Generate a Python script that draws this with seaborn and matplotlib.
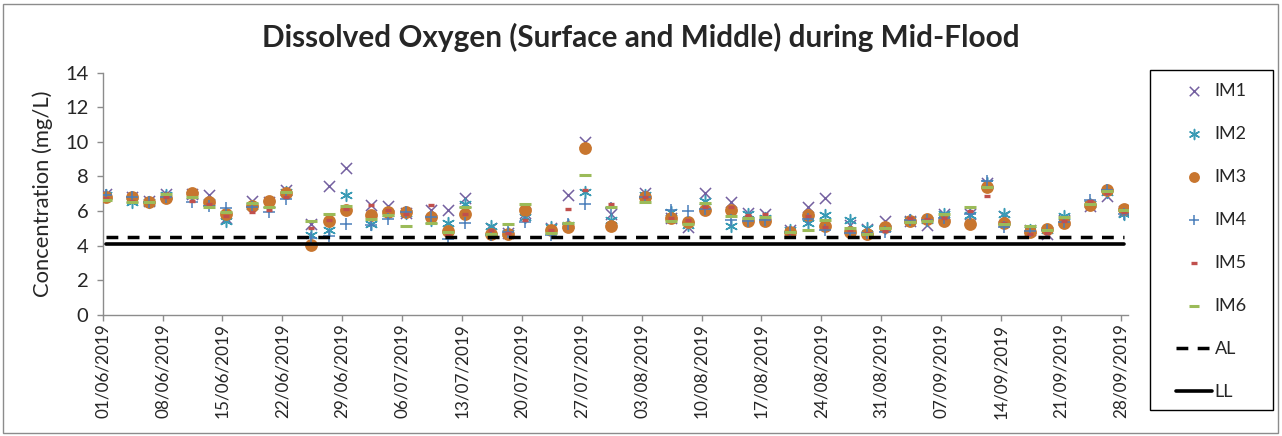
import matplotlib
matplotlib.use("Agg")
import matplotlib.pyplot as plt
import matplotlib.dates as mdates
from matplotlib.patches import Rectangle
import pandas as pd
import seaborn as sns

# sampling dates (taken mid-morning)
sample_dates = [
    "01/06/2019", "04/06/2019", "06/06/2019", "08/06/2019", "11/06/2019", "13/06/2019", "15/06/2019",
    "18/06/2019", "20/06/2019", "22/06/2019", "25/06/2019", "27/06/2019", "29/06/2019",
    "02/07/2019", "04/07/2019", "06/07/2019", "09/07/2019", "11/07/2019", "13/07/2019", "16/07/2019",
    "18/07/2019", "20/07/2019", "23/07/2019", "25/07/2019", "27/07/2019", "30/07/2019",
    "03/08/2019", "06/08/2019", "08/08/2019", "10/08/2019", "13/08/2019", "15/08/2019", "17/08/2019",
    "20/08/2019", "22/08/2019", "24/08/2019", "27/08/2019", "29/08/2019", "31/08/2019",
    "03/09/2019", "05/09/2019", "07/09/2019", "10/09/2019", "12/09/2019", "14/09/2019",
    "17/09/2019", "19/09/2019", "21/09/2019", "24/09/2019", "26/09/2019", "28/09/2019",
]
sample_time = "09:30"

# dissolved oxygen (mg/L) per station, one value per sampling date
im1 = [7.0, 6.8, 6.6, 7.0, 7.0, 6.9, 5.6, 6.6, 6.5, 7.2, 5.26, 7.47, 8.49,
       6.32, 6.28, 5.9, 6.03, 6.03, 6.74, 5.0, 4.7, 5.9, 5.0, 6.9, 10.0, 5.84,
       7.03, 5.6, 5.07, 7.03, 6.51, 5.88, 5.84, 4.9, 6.22, 6.74, 5.2, 4.95, 5.42,
       5.4, 5.2, 5.84, 5.8, 7.6, 5.7, 4.9, 4.69, 5.5, 6.3, 6.89, 6.0]
im2 = [6.9, 6.5, 6.5, 6.95, 6.9, 6.5, 5.4, 6.3, 6.4, 7.1, 4.59, 4.88, 6.91,
       5.26, 5.9, 5.9, 5.5, 5.3, 6.42, 5.11, 4.7, 5.65, 5.07, 5.2, 7.09, 5.49,
       6.9, 5.95, 5.2, 6.6, 5.11, 5.8, 5.6, 4.9, 5.3, 5.78, 5.46, 5.01, 5.0,
       5.5, 5.5, 5.84, 5.78, 7.6, 5.84, 4.9, 4.9, 5.7, 6.4, 7.1, 5.8]
im3 = [6.8, 6.8, 6.5, 6.75, 7.03, 6.5, 5.84, 6.3, 6.6, 7.03, 4.05, 5.42, 6.03,
       5.74, 5.93, 5.93, 5.65, 4.84, 5.84, 4.65, 4.65, 6.03, 4.92, 5.07, 9.62, 5.13,
       6.83, 5.61, 5.36, 6.03, 6.03, 5.42, 5.42, 4.78, 5.74, 5.13, 4.78, 4.65, 5.07,
       5.42, 5.51, 5.42, 5.22, 7.41, 5.3, 4.78, 4.97, 5.32, 6.36, 7.22, 6.09]
im4 = [6.9, 6.83, 6.5, 6.8, 6.5, 6.3, 6.17, 6.22, 5.93, 6.7, 4.45, 4.53, 5.22,
       5.17, 5.55, 5.93, 5.68, 4.4, 5.3, 4.6, 4.78, 5.36, 4.59, 5.22, 6.42, 6.2,
       6.83, 6.07, 5.99, 6.13, 5.49, 5.4, 5.46, 4.8, 5.55, 4.88, 4.74, 4.7, 4.78,
       5.5, 5.5, 5.6, 5.8, 7.76, 5.07, 4.84, 4.9, 5.36, 6.64, 7.2, 5.84]
im5 = [6.75, 6.6, 6.5, 6.8, 6.6, 6.4, 5.7, 5.93, 6.07, 6.83, 5.03, 5.5, 6.13,
       6.32, 6.03, 5.84, 6.32, 4.59, 5.8, 4.88, 4.7, 5.49, 4.9, 6.09, 7.22, 6.38,
       6.8, 5.6, 5.49, 6.22, 6.22, 5.74, 5.8, 4.7, 5.7, 5.07, 4.9, 4.7, 4.84,
       5.61, 5.55, 5.6, 5.99, 6.89, 5.3, 4.69, 4.72, 5.4, 6.57, 7.03, 5.93]
im6 = [6.65, 6.5, 6.5, 6.99, 6.83, 6.22, 5.93, 6.45, 6.22, 7.08, 5.4, 5.8, 6.3,
       5.51, 5.74, 5.13, 5.3, 4.78, 6.22, 4.69, 5.22, 6.42, 4.72, 5.3, 8.1, 6.22,
       6.51, 5.42, 5.26, 6.45, 5.7, 5.59, 5.68, 4.8, 4.92, 5.49, 5.01, 4.69, 5.01,
       5.36, 5.42, 5.8, 6.22, 7.41, 5.26, 5.11, 4.88, 5.65, 6.42, 7.18, 6.07]

# action level / limit level (mg/L)
al_level = 4.5
ll_level = 4.1

# ---- build frame ----
dates = pd.to_datetime([d + " " + sample_time for d in sample_dates], format="%d/%m/%Y %H:%M")
df = pd.DataFrame({"date": dates, "IM1": im1, "IM2": im2, "IM3": im3,
                   "IM4": im4, "IM5": im5, "IM6": im6})
limits = pd.DataFrame({"date": [dates[0], dates[-1]],
                       "AL": [al_level, al_level], "LL": [ll_level, ll_level]})

sns.set_style("white")
plt.rcParams["font.family"] = ["Lato", "DejaVu Sans"]

W, H = 1282, 436
fig = plt.figure(figsize=(W / 100, H / 100), dpi=100)
ax = fig.add_axes([102.7 / W, 1 - 314.7 / H, (1128 - 102.7) / W, (314.7 - 72.7) / H])

# outer chart border
fig.patches.append(Rectangle((3 / W, 3 / H), (W - 7) / W, (H - 7) / H, transform=fig.transFigure,
                             fill=False, edgecolor="#8c8c8c", linewidth=1.0))

# series styles: (marker, colour, size, line width)
styles = {
    "IM1": ("x", "#7460a0", 64, 1.1),
    "IM2": ((6, 2, 0), "#3a9bb5", 72, 1.1),
    "IM3": ("o", "#c8762f", 85, 0),
    "IM4": ("+", "#4a7ebb", 82, 1.1),
    "IM5": ("_", "#c0504d", 18, 2.4),
    "IM6": ("_", "#9bbb59", 72, 2.2),
}
for name, (mk, col, size, lw) in styles.items():
    sns.scatterplot(data=df, x="date", y=name, marker=mk, color=col, s=size,
                    linewidth=lw, edgecolor=col, label=name, ax=ax, zorder=3)

sns.lineplot(data=limits, x="date", y="AL", color="black", linewidth=2.5,
             linestyle=(0, (3.4, 2.7)), label="AL", ax=ax, zorder=4)
sns.lineplot(data=limits, x="date", y="LL", color="black", linewidth=2.6,
             label="LL", ax=ax, zorder=4)

handles, labels = ax.get_legend_handles_labels()
if ax.get_legend() is not None:
    ax.get_legend().remove()

# axes look
start = pd.Timestamp("2019-06-01")
ax.set_xlim(start, start + pd.Timedelta(days=119.85))
ax.set_ylim(0, 14)
ax.set_yticks(range(0, 15, 2))
ticks = pd.date_range("2019-06-01", "2019-09-28", freq="7D")
ax.set_xticks(ticks)
ax.xaxis.set_major_formatter(mdates.DateFormatter("%d/%m/%Y"))
ax.set_xlabel("")
ax.set_ylabel("")
for side in ["top", "right"]:
    ax.spines[side].set_visible(False)
for side in ["left", "bottom"]:
    ax.spines[side].set_color("#8c8c8c")
    ax.spines[side].set_linewidth(1.0)
ax.tick_params(axis="y", direction="out", length=4.3, width=1, color="#8c8c8c",
               labelsize=14.5, pad=6, left=True)
ax.tick_params(axis="x", direction="out", length=4.3, width=1, color="#8c8c8c",
               labelsize=12.3, pad=2, bottom=True, labelrotation=90)

fig.text(0.5, 1 - 37 / H, "Dissolved Oxygen (Surface and Middle) during Mid-Flood",
         ha="center", va="center", fontsize=21.4, fontweight="bold")
fig.text(43 / W, 1 - 193.7 / H, "Concentration (mg/L)", rotation=90,
         ha="center", va="center", fontsize=15.8)

# legend with its own frame
fig.patches.append(Rectangle((1150 / W, 1 - 410 / H), 123 / W, 340 / H, transform=fig.transFigure,
                             fill=False, edgecolor="black", linewidth=1.0))
fig.legend(handles, labels, loc="upper left", bbox_to_anchor=(1176 / W, 1 - 82.5 / H),
           frameon=False, borderpad=0, borderaxespad=0, handlelength=2.0,
           handletextpad=0.15, labelspacing=1.5, fontsize=13, scatterpoints=1,
           markerscale=0.85)

fig.savefig("out.png", dpi=100)
